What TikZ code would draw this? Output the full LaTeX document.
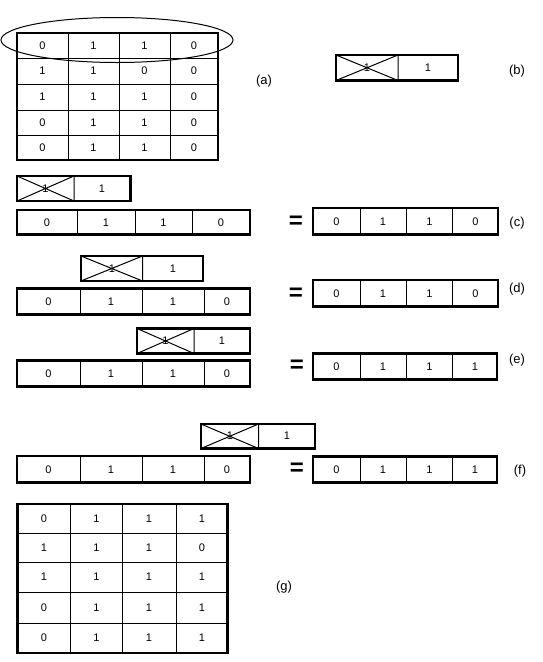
\documentclass[tikz,border=0pt]{standalone}
\usepackage{fontspec}
\setmainfont{Liberation Sans}
\usepackage{tikz}

\begin{document}
\begin{tikzpicture}[x=1pt,y=-1pt,
		thinline/.style={line width=1pt},
		frame/.style={line width=2.2pt},
		cell/.style={font=\fontsize{11}{11}\selectfont},
		lbl/.style={font=\fontsize{13}{13}\selectfont},
		eq/.style={font=\fontsize{24}{24}\selectfont\bfseries}]
		\useasboundingbox (0,0) rectangle (543,662);
		% (a) image with the row that is eroded
		\draw[thinline] (68,33)--(68,160) (119,33)--(119,160) (170,33)--(170,160);
		\draw[thinline] (17,58)--(218,58) (17,84)--(218,84) (17,110)--(218,110) (17,135)--(218,135);
		\draw[frame] (17,33) rectangle (218,160);
		\foreach \y/\a/\b/\c/\d in {45.5/0/1/1/0, 71/1/1/0/0, 97/1/1/1/0, 122.5/0/1/1/0, 147.5/0/1/1/0}
		{
			\node[cell] at (42.5,\y) {\a};
			\node[cell] at (93.5,\y) {\b};
			\node[cell] at (144.5,\y) {\c};
			\node[cell] at (194,\y) {\d};
		}
		\draw[thinline] (117,40) ellipse [x radius=116, y radius=22.5];
		\node[lbl] (la) at (264,81) {(a)};
		% (b) structuring element
		\coordinate (B1) at (336,55);
		\coordinate (B2) at (398,80.5);
		\draw[thinline] (B1)--(B2) (336,80.5)--(398,55) (398,55)--(398,80.5);
		\node[cell] at (367,68) {1};
		\node[cell] at (428,68) {1};
		\draw[frame] (336,55) rectangle (458,80.5);
		\node[lbl] (lb) at (517,71) {(b)};
		% (c) first position
		\draw[thinline] (17,176)--(74,201) (17,201)--(74,176) (74,176)--(74,201);
		\node[cell] at (45.5,189) {1};
		\node[cell] at (102,189) {1};
		\draw[frame] (17,176) rectangle (130.5,201);
		\draw[thinline] (77,210)--(77,234.5) (135,210)--(135,234.5) (192.5,210)--(192.5,234.5);
		\draw[frame] (17,210) rectangle (250,234.5);
		\foreach \x/\v in {47/0, 106/1, 163.5/1, 221/0}
			\node[cell] at (\x,222.5) {\v};
		\node[eq] (eqc) at (296,222) {=};
		\draw[thinline] (360,208)--(360,234.5) (406.5,208)--(406.5,234.5) (452.5,208)--(452.5,234.5);
		\draw[frame] (313,208) rectangle (498,234.5);
		\foreach \x/\v in {336.5/0, 383/1, 429.5/1, 475.5/0}
			\node[cell] at (\x,221.5) {\v};
		\node[lbl] (lc) at (517,223) {(c)};
		% (d) second position
		\draw[thinline] (81,256)--(142.5,281) (81,281)--(142.5,256) (142.5,256)--(142.5,281);
		\node[cell] at (112,268.5) {1};
		\node[cell] at (173,268.5) {1};
		\draw[frame] (81,256) rectangle (203,281);
		\draw[thinline] (80,288.5)--(80,314.5) (142.5,288.5)--(142.5,314.5) (204,288.5)--(204,314.5);
		\draw[frame] (17,288.5) rectangle (250,314.5);
		\foreach \x/\v in {48.5/0, 111/1, 173/1, 227/0}
			\node[cell] at (\x,301.5) {\v};
		\node[eq] (eqd) at (296,294) {=};
		\draw[thinline] (360,280)--(360,306.5) (406.5,280)--(406.5,306.5) (452.5,280)--(452.5,306.5);
		\draw[frame] (313,280) rectangle (498,306.5);
		\foreach \x/\v in {336.5/0, 383/1, 429.5/1, 475.5/0}
			\node[cell] at (\x,293.5) {\v};
		\node[lbl] (ld) at (517,289) {(d)};
		% (e) third position
		\draw[thinline] (137,328.5)--(194,353.5) (137,353.5)--(194,328.5) (194,328.5)--(194,353.5);
		\node[cell] at (165.5,341) {1};
		\node[cell] at (222,341) {1};
		\draw[frame] (137,328.5) rectangle (250,353.5);
		\draw[thinline] (80,360.5)--(80,386.5) (142.5,360.5)--(142.5,386.5) (204,360.5)--(204,386.5);
		\draw[frame] (17,360.5) rectangle (250,386.5);
		\foreach \x/\v in {48.5/0, 111/1, 173/1, 227/0}
			\node[cell] at (\x,373.5) {\v};
		\node[eq] (eqe) at (297,366.5) {=};
		\draw[thinline] (360,353.5)--(360,379.5) (406.5,353.5)--(406.5,379.5) (452.5,353.5)--(452.5,379.5);
		\draw[frame] (313,353.5) rectangle (497,379.5);
		\foreach \x/\v in {336.5/0, 383/1, 429.5/1, 475/1}
			\node[cell] at (\x,366.5) {\v};
		\node[lbl] (le) at (517,360) {(e)};
		% (f) last position
		\draw[thinline] (201,424)--(258.5,448.5) (201,448.5)--(258.5,424) (258.5,424)--(258.5,448.5);
		\node[cell] at (230,436) {1};
		\node[cell] at (287,436) {1};
		\draw[frame] (201,424) rectangle (315,448.5);
		\draw[thinline] (80,456)--(80,482.5) (142.5,456)--(142.5,482.5) (204,456)--(204,482.5);
		\draw[frame] (17,456) rectangle (250,482.5);
		\foreach \x/\v in {48.5/0, 111/1, 173/1, 227/0}
			\node[cell] at (\x,469.5) {\v};
		\node[eq] (eqf) at (297,469) {=};
		\draw[thinline] (360,456.5)--(360,482.5) (406.5,456.5)--(406.5,482.5) (452.5,456.5)--(452.5,482.5);
		\draw[frame] (313,456.5) rectangle (497,482.5);
		\foreach \x/\v in {336.5/0, 383/1, 429.5/1, 475/1}
			\node[cell] at (\x,469.5) {\v};
		\node[lbl] (lf) at (520,471) {(f)};
		% (g) result
		\draw[thinline] (70.5,504)--(70.5,653) (122.5,504)--(122.5,653) (176,504)--(176,653);
		\draw[thinline] (17.5,533.5)--(227.5,533.5) (17.5,562.5)--(227.5,562.5) (17.5,592)--(227.5,592) (17.5,623)--(227.5,623);
		\draw[frame] (17.5,504) rectangle (227.5,653);
		\foreach \y/\a/\b/\c/\d in {519/0/1/1/1, 548/1/1/1/0, 577/1/1/1/1, 607.5/0/1/1/1, 638/0/1/1/1}
		{
			\node[cell] at (44,\y) {\a};
			\node[cell] at (96.5,\y) {\b};
			\node[cell] at (149,\y) {\c};
			\node[cell] at (202,\y) {\d};
		}
		\node[lbl] (lg) at (284,587) {(g)};
	\end{tikzpicture}
\end{document}
